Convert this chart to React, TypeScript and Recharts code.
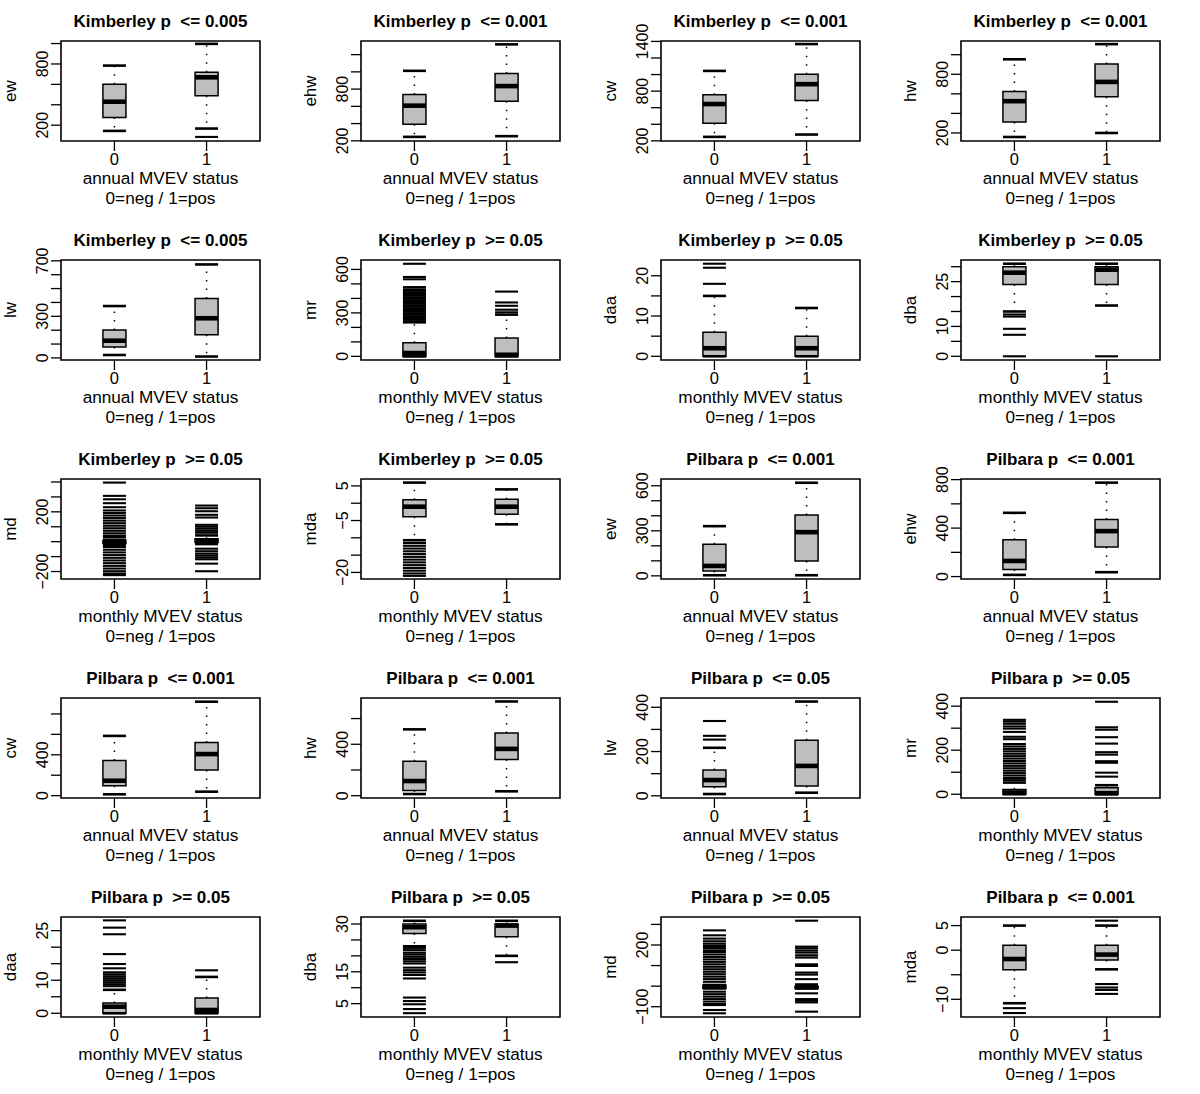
import React from "react";
import {
  ComposedChart,
  XAxis,
  YAxis,
  Scatter,
  ReferenceArea,
  ReferenceLine,
} from "recharts";

// panel order: row by row, 4 per row
const titles = [
  "Kimberley p  <= 0.005", "Kimberley p  <= 0.001", "Kimberley p  <= 0.001", "Kimberley p  <= 0.001",
  "Kimberley p  <= 0.005", "Kimberley p  >= 0.05", "Kimberley p  >= 0.05", "Kimberley p  >= 0.05",
  "Kimberley p  >= 0.05", "Kimberley p  >= 0.05", "Pilbara p  <= 0.001", "Pilbara p  <= 0.001",
  "Pilbara p  <= 0.001", "Pilbara p  <= 0.001", "Pilbara p  <= 0.05", "Pilbara p  >= 0.05",
  "Pilbara p  >= 0.05", "Pilbara p  >= 0.05", "Pilbara p  >= 0.05", "Pilbara p  <= 0.001",
];
const yNames = [
  "ew", "ehw", "cw", "hw", "lw", "mr", "daa", "dba", "md", "mda",
  "ew", "ehw", "cw", "hw", "lw", "mr", "daa", "dba", "md", "mda",
];
const periods = [
  "annual", "annual", "annual", "annual", "annual", "monthly", "monthly", "monthly", "monthly", "monthly",
  "annual", "annual", "annual", "annual", "annual", "monthly", "monthly", "monthly", "monthly", "monthly",
];
const groups = ["0", "1"];

const yDomains = [
  [45, 1025], [198, 1358], [198, 1405], [118, 1140],
  [-15, 706], [-25, 665], [-0.92, 23.92], [-1.24, 32.24],
  [-250, 420], [-21.9, 7.0], [-21, 645], [-20, 805],
  [-23, 956], [-18, 760], [-10, 442], [-17, 437],
  [-1.12, 29.12], [0.8, 32.2], [-150, 336], [-13.6, 6.75],
];
const yTicks = [
  [200, 400, 600, 800, 1000], [200, 400, 600, 800, 1000, 1200],
  [200, 400, 600, 800, 1000, 1200, 1400], [200, 400, 600, 800, 1000],
  [0, 100, 200, 300, 400, 500, 600, 700], [0, 100, 200, 300, 400, 500, 600],
  [0, 5, 10, 15, 20], [0, 5, 10, 15, 20, 25, 30],
  [-200, -100, 0, 100, 200, 300, 400], [-20, -15, -10, -5, 0, 5],
  [0, 100, 200, 300, 400, 500, 600], [0, 200, 400, 600, 800],
  [0, 200, 400, 600, 800], [0, 200, 400, 600],
  [0, 100, 200, 300, 400], [0, 100, 200, 300, 400],
  [0, 5, 10, 15, 20, 25], [5, 10, 15, 20, 25, 30],
  [-100, 0, 100, 200, 300], [-10, -5, 0, 5],
];
const yTickLabels = [
  [200, 800], [200, 800], [200, 800, 1400], [200, 800],
  [0, 300, 700], [0, 300, 600], [0, 10, 20], [0, 10, 25],
  [-200, 200], [-20, -5, 5], [0, 300, 600], [0, 400, 800],
  [0, 400], [0, 400], [0, 200, 400], [0, 200, 400],
  [0, 10, 25], [5, 15, 30], [-100, 200], [-10, 0, 5],
];

// [group 0, group 1]
const q1s = [
  [275, 489], [392, 658], [412, 688], [312, 570], [79, 167],
  [0, 0], [0, 0], [24, 24], [-12, -6], [-3.9, -3.2],
  [33, 99], [58, 244], [98, 250], [41, 281], [41, 44],
  [0, 0], [0, 0], [27, 26], [-11, -11], [-4, -2],
];
const medians = [
  [430, 669], [608, 835], [644, 884], [525, 722], [124, 286],
  [23, 11], [2, 2], [28, 29], [0, 7], [-1, -1],
  [66, 291], [129, 375], [146, 407], [114, 364], [71, 135],
  [8, 5], [2, 1], [29, 29.5], [0, -5], [-1.8, -0.9],
];
const q3s = [
  [600, 718], [738, 981], [756, 1004], [624, 905], [202, 429],
  [94, 126], [6, 5], [30, 30], [8, 20], [1, 1.15],
  [210, 406], [304, 471], [345, 520], [268, 488], [116, 251],
  [22, 30], [3.1, 4.6], [30, 30], [5, 0], [1, 1],
];
const whiskLow = [
  [144, 167], [246, 254], [248, 276], [159, 200], [21, 10],
  [0, 0], [0, 0], [15, 17], [-24, -16], [-10.7, -6.1],
  [4, 4], [14, 36], [13, 39], [13, 34], [8, 14],
  [0, 0], [0, 0], [23, 20], [-11, -11], [-10.8, -3.9],
];
const whiskHigh = [
  [784, 997], [1012, 1319], [1044, 1368], [953, 1108], [374, 674],
  [235, 288], [15, 12], [31, 31], [13, 42], [5.96, 4],
  [331, 620], [526, 775], [585, 920], [516, 733], [217, 426],
  [53, 41], [7.1, 11], [31, 31], [5, 8], [5, 5],
];

const outliersNeg = [
  [], [], [], [], [],
  [639, 548, 532, 478, 463, 452, 441, 430, 419, 408, 397, 386, 375, 364, 353, 342, 331, 320, 309, 298, 287, 276, 265, 254, 243],
  [18, 22, 23],
  [14, 13.3, 9.2, 7.2, 0],
  [396, 307, 284, 258, 231, 209, 192, 175, 158, 141, 124, 107, 90, 73, 56, 40, 31, -36, -54, -72, -90, -108, -126, -144, -162, -180, -198, -214, -224],
  [-11.5, -12.3, -13.1, -13.9, -14.7, -15.5, -16.3, -17.1, -17.9, -18.7, -19.5, -20.3, -21.0],
  [], [], [], [],
  [254, 271, 338],
  [338, 330, 320, 308, 298, 283, 261, 250, 228, 217, 206, 195, 184, 173, 162, 151, 140, 129, 118, 107, 96, 85, 74, 64],
  [28.1, 25.9, 23.9, 17.9, 14.9, 13.6, 12.4, 11.8, 11.2, 10.6, 10.0, 9.4, 8.8, 8.2],
  [22.5, 21.8, 21, 20.4, 19.7, 19, 18.3, 17.6, 16.3, 15.5, 14.8, 14, 12.9, 6.9, 5.8, 4.8, 3.3, 2],
  [271, 247, 231, 218, 206, 195, 185, 174, 166, 154, 142, 130, 118, 106, 94, 82, 70, 58, 46, 34, 21, -27, -39, -51, -63, -75, -87, -92, -116, -132],
  [-11.8, -12.8],
];
const outliersPos = [
  [85], [], [], [], [],
  [304, 322, 349, 372, 447],
  [],
  [0],
  [242, 224, 204, 180, 162, 113, 100, 87, 73, 60, -47, -64, -80, -93, -106, -118, -147, -198],
  [],
  [], [], [], [], [],
  [420, 304, 293, 259, 230, 191, 180, 150, 143, 98, 80],
  [13],
  [18],
  [318, 192, 184, 173, 163, 150, 139, 106, 98, 66, 56, 34, -35, -63, -71, -79, -124],
  [6, -6.9, -7.6, -8.1, -8.9],
];

const FONT = "'Liberation Sans', Arial, Helvetica, sans-serif";
const POS = [1, 2];
const HALF = 0.125;
const PANEL_W = 300;
const PANEL_H = 219;

const fmt = (v: number) => (v < 0 ? "\u2212" + Math.abs(v) : String(v));

const dash = (w: number) => (p: any) => (
  <line x1={p.cx - 11.5} x2={p.cx + 11.5} y1={p.cy} y2={p.cy} stroke="#000" strokeWidth={w} />
);

function YTick(props: any) {
  const { x, y, payload, shown } = props;
  if (!shown.includes(payload.value)) return <g />;
  const tx = x - 1;
  return (
    <text x={tx} y={y} transform={`rotate(-90 ${tx} ${y})`} textAnchor="middle"
      fontSize={16} fontFamily={FONT} fill="#000">
      {fmt(payload.value)}
    </text>
  );
}

function XTick(props: any) {
  const { x, y, payload } = props;
  return (
    <text x={x} y={y + 12} textAnchor="middle" fontSize={16.5} fontFamily={FONT} fill="#000">
      {groups[payload.value - 1]}
    </text>
  );
}

function Panel({ i }: { i: number }) {
  const col = i % 4;
  const row = Math.floor(i / 4);
  const [lo, hi] = yDomains[i];

  const caps = POS.flatMap((x, g) => [
    { x, y: whiskLow[i][g] },
    { x, y: whiskHigh[i][g] },
  ]);
  const outs = [
    ...outliersNeg[i].map((y) => ({ x: 1, y })),
    ...outliersPos[i].map((y) => ({ x: 2, y })),
  ];
  const meds = POS.map((x, g) => ({ x, y: medians[i][g] }));

  return (
    <div style={{ position: "absolute", left: col * PANEL_W, top: row * PANEL_H, width: PANEL_W, height: PANEL_H }}>
      <ComposedChart width={PANEL_W} height={PANEL_H} margin={{ top: 41, right: 40, bottom: 0, left: 0 }}>
        <XAxis type="number" dataKey="x" domain={[0.42, 2.58]} ticks={POS} interval={0}
          allowDataOverflow height={78} tickSize={10} axisLine={false}
          tickLine={{ stroke: "#000", strokeWidth: 1.3 }} tick={<XTick />} />
        <YAxis type="number" dataKey="y" domain={[lo, hi]} ticks={yTicks[i]} interval={0}
          allowDataOverflow width={61} tickSize={10} axisLine={false}
          tickLine={{ stroke: "#000", strokeWidth: 1.3 }}
          tick={(p: any) => <YTick {...p} shown={yTickLabels[i]} />} />
        {POS.map((x, g) => (
          <ReferenceArea key={`box${g}`} x1={x - HALF} x2={x + HALF} y1={q1s[i][g]} y2={q3s[i][g]}
            fill="#bebebe" fillOpacity={1} stroke="#000" strokeWidth={1.5} ifOverflow="visible" />
        ))}
        {POS.map((x, g) => (
          <ReferenceLine key={`wu${g}`} segment={[{ x, y: q3s[i][g] }, { x, y: whiskHigh[i][g] }]}
            stroke="#000" strokeWidth={1.5} strokeDasharray="1.5 7" ifOverflow="visible" />
        ))}
        {POS.map((x, g) => (
          <ReferenceLine key={`wl${g}`} segment={[{ x, y: q1s[i][g] }, { x, y: whiskLow[i][g] }]}
            stroke="#000" strokeWidth={1.5} strokeDasharray="1.5 7" ifOverflow="visible" />
        ))}
        <Scatter data={caps} shape={dash(2.6)} isAnimationActive={false} />
        <Scatter data={outs} shape={dash(2.1)} isAnimationActive={false} />
        <Scatter data={meds} shape={dash(4.6)} isAnimationActive={false} />
        <ReferenceArea x1={0.42} x2={2.58} y1={lo} y2={hi} fill="none" stroke="#000"
          strokeWidth={1.6} ifOverflow="visible" />
      </ComposedChart>
      <svg width={PANEL_W} height={PANEL_H} style={{ position: "absolute", left: 0, top: 0, pointerEvents: "none" }}
        fontFamily={FONT}>
        <text x={160.5} y={27} textAnchor="middle" fontSize={17} fontWeight="bold" style={{ whiteSpace: "pre" }}>
          {titles[i]}
        </text>
        <text x={160.5} y={184} textAnchor="middle" fontSize={17.2}>{`${periods[i]} MVEV status`}</text>
        <text x={160.5} y={204} textAnchor="middle" fontSize={17.2}>0=neg / 1=pos</text>
        <text x={16} y={91} textAnchor="middle" fontSize={17} transform="rotate(-90 16 91)">{yNames[i]}</text>
      </svg>
    </div>
  );
}

export default function App() {
  return (
    <div style={{ position: "absolute", left: 0, top: 0, width: 1200, height: 1094, background: "#fff" }}>
      {titles.map((_, i) => (
        <Panel key={i} i={i} />
      ))}
    </div>
  );
}
